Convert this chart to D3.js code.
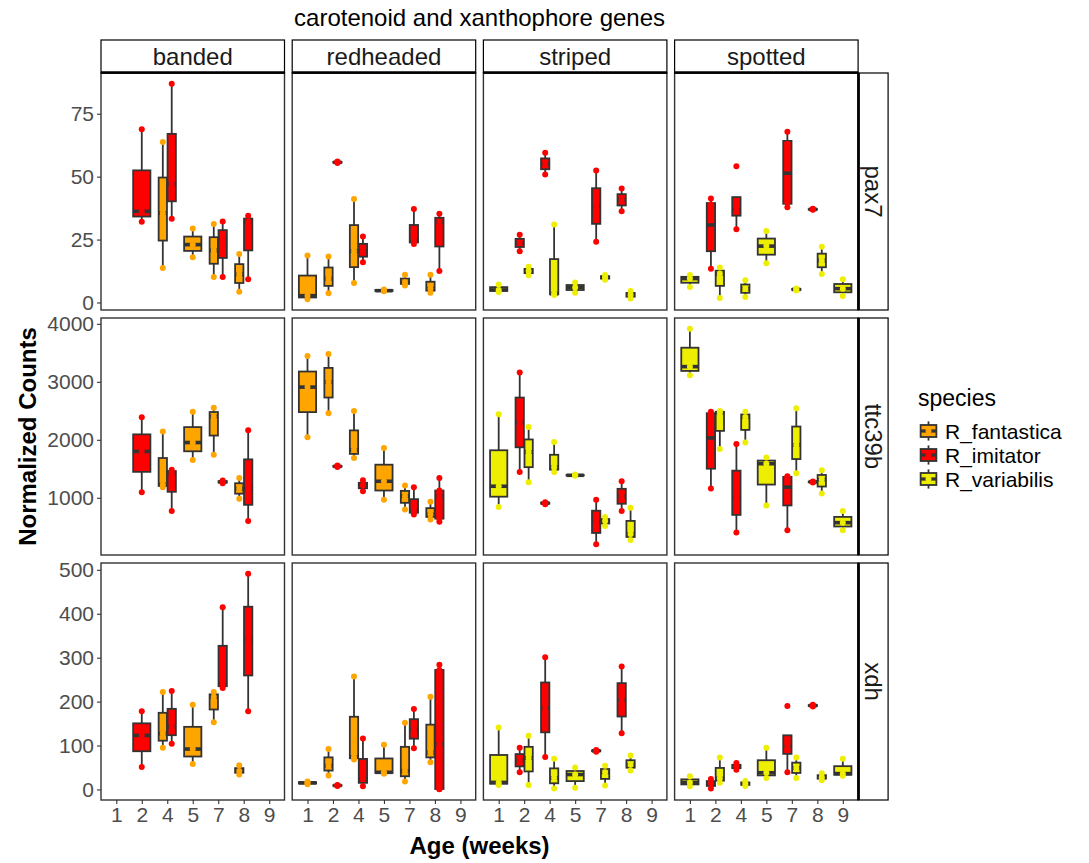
<!DOCTYPE html>
<html><head><meta charset="utf-8">
<script src="https://cdn.jsdelivr.net/npm/d3@7"></script>
<style>
body{margin:0;background:#fff}
text{font-family:"Liberation Sans",Arial,sans-serif}
</style>
</head><body>
<svg id="chart" width="1089" height="863"></svg>
<script>
const chartTitle = "carotenoid and xanthophore genes";
const genes = ["pax7", "ttc39b", "xdh"];
const patterns = ["banded", "redheaded", "striped", "spotted"];
const ages = ["1", "2", "4", "5", "7", "8", "9"];
const species = ["R_fantastica", "R_imitator", "R_variabilis"];
const speciesColors = ["#FFA500", "#FF0000", "#EEEE00"];
const yTicks = {
  pax7: [0, 25, 50, 75],
  ttc39b: [1000, 2000, 3000, 4000],
  xdh: [0, 100, 200, 300, 400, 500]
};

// [pattern, species, age, sample values]
const pax7Samples = [
  ["banded", "R_imitator", "2", [32.1, 36.2, 68.8]],
  ["banded", "R_fantastica", "4", [13.7, 35.5, 63.8]],
  ["banded", "R_imitator", "4", [33.3, 47.1, 86.9]],
  ["banded", "R_fantastica", "5", [18, 23, 29.4]],
  ["banded", "R_fantastica", "7", [10.1, 20.7, 31.2]],
  ["banded", "R_imitator", "7", [10.1, 25.3, 32.2]],
  ["banded", "R_fantastica", "8", [4.3, 11.2, 19.3]],
  ["banded", "R_imitator", "8", [9.2, 32.2, 34.5]],
  ["redheaded", "R_fantastica", "1", [1.3, 2.7, 18.7]],
  ["redheaded", "R_fantastica", "2", [3.7, 9.5, 18.3]],
  ["redheaded", "R_imitator", "2", [55.4, 55.7, 56.0]],
  ["redheaded", "R_fantastica", "4", [7.7, 20.4, 41.1]],
  ["redheaded", "R_imitator", "4", [16, 20.4, 26.2]],
  ["redheaded", "R_fantastica", "5", [4.5, 4.7, 5.2]],
  ["redheaded", "R_fantastica", "7", [6.8, 8.0, 11.0]],
  ["redheaded", "R_imitator", "7", [23.2, 24.5, 37.1]],
  ["redheaded", "R_fantastica", "8", [3.9, 5.5, 11]],
  ["redheaded", "R_imitator", "8", [12.5, 32, 35.3]],
  ["striped", "R_variabilis", "1", [4.2, 5.0, 7.2]],
  ["striped", "R_imitator", "2", [20.4, 23.7, 26.9]],
  ["striped", "R_variabilis", "2", [10.8, 12.5, 14.2]],
  ["striped", "R_imitator", "4", [50.9, 55, 59.5]],
  ["striped", "R_variabilis", "4", [3.0, 3.5, 31.0]],
  ["striped", "R_variabilis", "5", [3.9, 6.0, 7.9]],
  ["striped", "R_imitator", "7", [24.1, 38.4, 52.4]],
  ["striped", "R_variabilis", "7", [9.0, 10.0, 10.9]],
  ["striped", "R_imitator", "8", [36.3, 40.8, 45.3]],
  ["striped", "R_variabilis", "8", [1.6, 3.0, 4.6]],
  ["spotted", "R_variabilis", "1", [6.2, 9.5, 10.9]],
  ["spotted", "R_imitator", "2", [13.4, 22.7, 38.9, 41.3]],
  ["spotted", "R_variabilis", "2", [1.8, 11.4, 13.9]],
  ["spotted", "R_imitator", "4", [29.1, 36.3, 37.8, 54.1]],
  ["spotted", "R_variabilis", "4", [2.2, 5.5, 8.8]],
  ["spotted", "R_variabilis", "5", [15.6, 22.4, 28.4]],
  ["spotted", "R_imitator", "7", [37.8, 39.7, 63.0, 67.8]],
  ["spotted", "R_variabilis", "7", [4.8, 5.2, 5.6]],
  ["spotted", "R_imitator", "8", [36.8, 37.0, 37.2]],
  ["spotted", "R_variabilis", "8", [11.3, 16.7, 22.1]],
  ["spotted", "R_variabilis", "9", [2.6, 5.5, 9.2]]
];

const ttc39bSamples = [
  ["banded", "R_imitator", "2", [1096, 1799, 2389]],
  ["banded", "R_fantastica", "4", [1180, 1230, 2142]],
  ["banded", "R_imitator", "4", [770, 1436, 1485]],
  ["banded", "R_fantastica", "5", [1651, 1953, 2485]],
  ["banded", "R_fantastica", "7", [1742, 2404, 2554]],
  ["banded", "R_imitator", "7", [1250, 1275, 1300]],
  ["banded", "R_fantastica", "8", [983, 1159, 1343]],
  ["banded", "R_imitator", "8", [599, 1159, 2166]],
  ["redheaded", "R_fantastica", "1", [2046, 2909, 3446]],
  ["redheaded", "R_fantastica", "2", [2458, 3000, 3480]],
  ["redheaded", "R_imitator", "2", [1530, 1542, 1555]],
  ["redheaded", "R_fantastica", "4", [1686, 1828, 2497]],
  ["redheaded", "R_imitator", "4", [1113, 1215, 1302]],
  ["redheaded", "R_fantastica", "5", [966, 1285, 1857]],
  ["redheaded", "R_fantastica", "7", [799, 1027, 1211]],
  ["redheaded", "R_imitator", "7", [713, 771, 1182]],
  ["redheaded", "R_fantastica", "8", [627, 713, 931]],
  ["redheaded", "R_imitator", "8", [588, 640, 1027, 1125, 1343]],
  ["striped", "R_variabilis", "1", [839, 1199, 2440]],
  ["striped", "R_imitator", "2", [1446, 2296, 3161]],
  ["striped", "R_variabilis", "2", [1267, 1789, 2223]],
  ["striped", "R_imitator", "4", [890, 907, 925]],
  ["striped", "R_variabilis", "4", [1446, 1524, 1960]],
  ["striped", "R_variabilis", "5", [1380, 1388, 1400]],
  ["striped", "R_imitator", "7", [199, 588, 966]],
  ["striped", "R_variabilis", "7", [513, 600, 667]],
  ["striped", "R_imitator", "8", [770, 1024, 1285]],
  ["striped", "R_variabilis", "8", [273, 375, 828]],
  ["spotted", "R_variabilis", "1", [3114, 3262, 3915]],
  ["spotted", "R_imitator", "2", [1159, 1616, 2449, 2485]],
  ["spotted", "R_variabilis", "2", [1840, 2468, 2497]],
  ["spotted", "R_imitator", "4", [400, 1010, 1926]],
  ["spotted", "R_variabilis", "4", [1953, 2389, 2485]],
  ["spotted", "R_variabilis", "5", [868, 1588, 1696]],
  ["spotted", "R_imitator", "7", [439, 1011, 1357, 1370]],
  ["spotted", "R_variabilis", "7", [1422, 1914, 2543]],
  ["spotted", "R_imitator", "8", [1265, 1274, 1283]],
  ["spotted", "R_variabilis", "8", [1074, 1314, 1473]],
  ["spotted", "R_variabilis", "9", [439, 571, 770]]
];

const xdhSamples = [
  ["banded", "R_imitator", "2", [51, 123, 178]],
  ["banded", "R_fantastica", "4", [95, 127, 222]],
  ["banded", "R_imitator", "4", [104, 143, 224]],
  ["banded", "R_fantastica", "5", [58, 92, 193]],
  ["banded", "R_fantastica", "7", [153, 211, 222]],
  ["banded", "R_imitator", "7", [231, 239, 415]],
  ["banded", "R_fantastica", "8", [34, 42, 55]],
  ["banded", "R_imitator", "8", [178, 341, 491]],
  ["redheaded", "R_fantastica", "1", [12, 15, 18]],
  ["redheaded", "R_fantastica", "2", [32, 54, 92]],
  ["redheaded", "R_imitator", "2", [8, 9, 10]],
  ["redheaded", "R_fantastica", "4", [68, 74, 257]],
  ["redheaded", "R_imitator", "4", [7, 23, 116]],
  ["redheaded", "R_fantastica", "5", [36, 39, 102]],
  ["redheaded", "R_fantastica", "7", [18, 42, 152]],
  ["redheaded", "R_imitator", "7", [94, 137, 183]],
  ["redheaded", "R_fantastica", "8", [62, 84, 211]],
  ["redheaded", "R_imitator", "8", [0.5, 1, 103, 272, 284]],
  ["striped", "R_variabilis", "1", [10, 16, 141]],
  ["striped", "R_imitator", "2", [39, 66, 95]],
  ["striped", "R_variabilis", "2", [10, 72, 122]],
  ["striped", "R_imitator", "4", [74, 186, 301]],
  ["striped", "R_variabilis", "4", [2, 26, 70]],
  ["striped", "R_variabilis", "5", [4, 34, 50]],
  ["striped", "R_imitator", "7", [86, 88, 90]],
  ["striped", "R_variabilis", "7", [9, 39, 54]],
  ["striped", "R_imitator", "8", [128, 204, 280]],
  ["striped", "R_variabilis", "8", [43, 56, 77]],
  ["spotted", "R_variabilis", "1", [7, 16, 30]],
  ["spotted", "R_imitator", "2", [2, 14, 24]],
  ["spotted", "R_variabilis", "2", [15, 25, 73]],
  ["spotted", "R_imitator", "4", [45, 52, 60]],
  ["spotted", "R_variabilis", "4", [8, 13, 19]],
  ["spotted", "R_variabilis", "5", [26, 38, 95]],
  ["spotted", "R_imitator", "7", [39, 95, 101, 190]],
  ["spotted", "R_variabilis", "7", [26, 49, 73]],
  ["spotted", "R_imitator", "8", [189, 191, 193]],
  ["spotted", "R_variabilis", "8", [21, 28, 37]],
  ["spotted", "R_variabilis", "9", [31, 36, 70]]
];

const samplesByGene = { pax7: pax7Samples, ttc39b: ttc39bSamples, xdh: xdhSamples };

// ---------- layout ----------
const W = 1089, H = 863;
const panelLeft = 101, panelW = 183.5, panelGapX = 7.7;
const panelTop = 73, panelH = 237, panelGapY = 8;
const stripH = 33, stripW = 30;
const boxWidthFrac = 0.7;
const outline = "#333333";
const tickTextColor = "#4D4D4D";
const tickFont = "21px", stripFont = "24px", legendTitleFont = "23px", legendFont = "21px",
      titleFont = "24px", axisTitleFont = "24px";

const svg = d3.select("#chart");
svg.append("rect").attr("width", W).attr("height", H).attr("fill", "#fff");

const colorScale = d3.scaleOrdinal().domain(species).range(speciesColors);
const lastLeft = panelLeft + 3 * (panelW + panelGapX);
const panelsRight = lastLeft + panelW;

function boxStats(vals) {
  const v = vals.slice().sort(d3.ascending);
  const q1 = d3.quantile(v, 0.25), med = d3.quantile(v, 0.5), q3 = d3.quantile(v, 0.75);
  const iqr = q3 - q1;
  const lo = d3.min(v.filter(d => d >= q1 - 1.5 * iqr));
  const hi = d3.max(v.filter(d => d <= q3 + 1.5 * iqr));
  return { q1, med, q3, lo, hi, v };
}

genes.forEach((g, gi) => {
  const rows = samplesByGene[g];
  const all = rows.flatMap(r => r[3]);
  const [mn, mx] = d3.extent(all);
  const pad = (mx - mn) * 0.05;
  const top = panelTop + gi * (panelH + panelGapY);
  const y = d3.scaleLinear().domain([mn - pad, mx + pad]).range([top + panelH, top]);

  const ya = svg.append("g").attr("transform", `translate(${panelLeft},0)`)
    .call(d3.axisLeft(y).tickValues(yTicks[g]).tickSize(4).tickPadding(3).tickFormat(d3.format("d")));
  ya.select(".domain").remove();
  ya.selectAll(".tick line").attr("stroke", outline).attr("stroke-width", 1.1);
  ya.selectAll(".tick text").attr("fill", tickTextColor).style("font-size", tickFont)
    .style("font-family", "'Liberation Sans', Arial, sans-serif");

  patterns.forEach((p, pi) => {
    const left = panelLeft + pi * (panelW + panelGapX);
    const x = d3.scalePoint().domain(ages).range([left, left + panelW]).padding(0.6);
    const step = x.step();
    const g0 = svg.append("g");

    g0.append("rect").attr("x", left).attr("y", top).attr("width", panelW).attr("height", panelH)
      .attr("fill", "#fff");

    const groups = rows.filter(r => r[0] === p);
    const items = [];
    ages.forEach(a => {
      const here = groups.filter(r => r[2] === a)
        .sort((r1, r2) => species.indexOf(r1[1]) - species.indexOf(r2[1]));
      const total = boxWidthFrac * step;
      const sub = total / Math.max(1, here.length);
      here.forEach((r, k) => {
        const cx = x(a) - total / 2 + (k + 0.5) * sub;
        items.push({ cx, w: sub - 0.6, sp: r[1], st: boxStats(r[3]) });
      });
    });

    items.forEach(it => {
      const s = it.st;
      g0.append("line").attr("x1", it.cx).attr("x2", it.cx).attr("y1", y(s.hi)).attr("y2", y(s.q3))
        .attr("stroke", outline).attr("stroke-width", 1.8);
      g0.append("line").attr("x1", it.cx).attr("x2", it.cx).attr("y1", y(s.q1)).attr("y2", y(s.lo))
        .attr("stroke", outline).attr("stroke-width", 1.8);
      g0.append("rect").attr("x", it.cx - it.w / 2).attr("width", it.w)
        .attr("y", y(s.q3)).attr("height", Math.max(0.01, y(s.q1) - y(s.q3)))
        .attr("fill", colorScale(it.sp)).attr("stroke", outline).attr("stroke-width", 1.8);
      g0.append("line").attr("x1", it.cx - it.w / 2).attr("x2", it.cx + it.w / 2)
        .attr("y1", y(s.med)).attr("y2", y(s.med))
        .attr("stroke", outline).attr("stroke-width", 3.6);
    });
    items.forEach(it => {
      it.st.v.forEach(v => {
        g0.append("circle").attr("cx", it.cx).attr("cy", y(v)).attr("r", 3)
          .attr("fill", colorScale(it.sp));
      });
    });

    g0.append("rect").attr("x", left).attr("y", top).attr("width", panelW).attr("height", panelH)
      .attr("fill", "none").attr("stroke", "#333333").attr("stroke-width", 1.4);

    if (gi === 0) {
      svg.append("rect").attr("x", left).attr("y", top - stripH).attr("width", panelW).attr("height", stripH)
        .attr("fill", "#fff").attr("stroke", "#000").attr("stroke-width", 1.2);
      svg.append("line").attr("x1", left).attr("x2", left + panelW).attr("y1", top - 0.5).attr("y2", top - 0.5)
        .attr("stroke", "#000").attr("stroke-width", 2.6);
      svg.append("text").attr("x", left + panelW / 2).attr("y", top - stripH / 2 + 8)
        .attr("text-anchor", "middle").style("font-size", stripFont).attr("fill", "#1a1a1a").text(p);
    }
    if (gi === genes.length - 1) {
      const xa = svg.append("g").attr("transform", `translate(0,${top + panelH})`)
        .call(d3.axisBottom(x).tickSize(4).tickPadding(3));
      xa.select(".domain").remove();
      xa.selectAll(".tick line").attr("stroke", outline).attr("stroke-width", 1.1);
      xa.selectAll(".tick text").attr("fill", tickTextColor).style("font-size", tickFont)
        .style("font-family", "'Liberation Sans', Arial, sans-serif");
    }
  });

  svg.append("rect").attr("x", panelsRight).attr("y", top).attr("width", stripW).attr("height", panelH)
    .attr("fill", "#fff").attr("stroke", "#000").attr("stroke-width", 1.2);
  svg.append("line").attr("x1", panelsRight + 0.5).attr("x2", panelsRight + 0.5).attr("y1", top).attr("y2", top + panelH)
    .attr("stroke", "#000").attr("stroke-width", 2.6);
  svg.append("text").attr("transform", `translate(${panelsRight + stripW / 2 - 8},${top + panelH / 2}) rotate(90)`)
    .attr("text-anchor", "middle").style("font-size", stripFont).attr("fill", "#1a1a1a").text(g);
});

svg.append("text").attr("x", (panelLeft + panelsRight) / 2).attr("y", 26)
  .attr("text-anchor", "middle").style("font-size", titleFont).attr("fill", "#000").text(chartTitle);

svg.append("text").attr("x", (panelLeft + panelsRight) / 2).attr("y", 854)
  .attr("text-anchor", "middle").style("font-size", axisTitleFont).style("font-weight", "bold").text("Age (weeks)");
svg.append("text").attr("transform", `translate(36,${panelTop + (3 * panelH + 2 * panelGapY) / 2}) rotate(-90)`)
  .attr("text-anchor", "middle").style("font-size", axisTitleFont).style("font-weight", "bold").text("Normalized Counts");

const lg = svg.append("g").attr("transform", "translate(918,0)");
lg.append("text").attr("x", 0).attr("y", 406).style("font-size", legendTitleFont).attr("fill", "#000").text("species");
const keyH = 24, keyW = 21, key0 = 419;
species.forEach((s, i) => {
  const ky = key0 + i * keyH;
  const k = lg.append("g").attr("transform", `translate(0,${ky})`);
  k.append("line").attr("x1", keyW / 2).attr("x2", keyW / 2).attr("y1", keyH * 0.1).attr("y2", keyH * 0.9)
    .attr("stroke", outline).attr("stroke-width", 1.8);
  k.append("rect").attr("x", keyW * 0.125).attr("y", keyH * 0.25).attr("width", keyW * 0.75).attr("height", keyH * 0.5)
    .attr("fill", speciesColors[i]).attr("stroke", outline).attr("stroke-width", 1.8);
  k.append("line").attr("x1", keyW * 0.125).attr("x2", keyW * 0.875).attr("y1", keyH / 2).attr("y2", keyH / 2)
    .attr("stroke", outline).attr("stroke-width", 3.2);
  k.append("circle").attr("cx", keyW / 2).attr("cy", keyH / 2).attr("r", 3).attr("fill", speciesColors[i]);
  lg.append("text").attr("x", keyW + 6).attr("y", ky + keyH / 2 + 7.5).style("font-size", legendFont)
    .attr("fill", "#000").text(s);
});
</script>
</body></html>
